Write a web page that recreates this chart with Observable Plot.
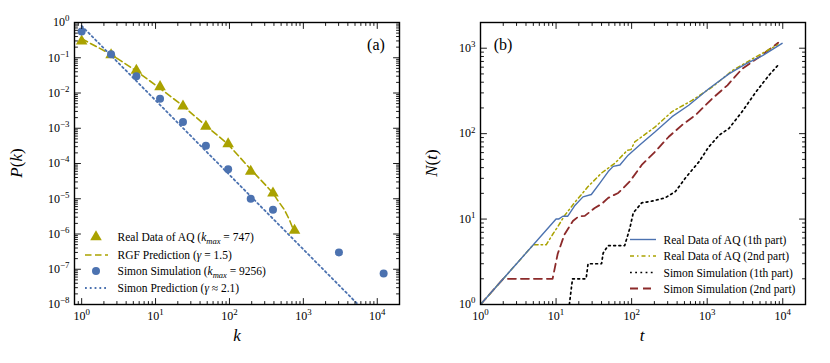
<!DOCTYPE html>
<html><head><meta charset="utf-8">
<script src="https://cdn.jsdelivr.net/npm/d3@7"></script>
<script src="https://cdn.jsdelivr.net/npm/@observablehq/plot@0.6"></script>
<style>
body{margin:0;background:#fff;}
#wrap{display:flex;width:830px;height:363px;background:#fff;}
</style></head><body><div id="wrap"></div>
<script>
// ---------- Panel (a): degree distribution ----------
const kReal = [1, 2.5, 5.5, 11.5, 23.5, 48, 96, 194, 388, 760];
const pReal = [0.295, 0.12, 0.044, 0.015, 0.0042, 0.00112, 0.00036, 6.0e-5, 1.44e-5, 1.26e-6];
const kSim = [1, 2.5, 5.5, 11.5, 23.5, 48, 96, 194, 388, 3030, 12200];
const pSim = [0.556, 0.126, 0.030, 0.0069, 0.0015, 3.2e-4, 6.9e-5, 1.0e-5, 4.9e-6, 3.0e-7, 7.6e-8];
const kRgf = [1, 2.5, 5.5, 11.5, 23.5, 48, 96, 194, 300, 388, 450, 550, 650, 747];
const pRgf = [0.345, 0.125, 0.042, 0.0135, 0.0043, 0.00118, 3.5e-4, 6.8e-5, 2.6e-5, 1.45e-5, 9e-6, 5e-6, 2.5e-6, 1.2e-6];
const kSimPred = [1, 5500];
const pSimPred = [0.8, 1.0e-8];

// ---------- Panel (b): N(t) ----------
const tBlue = [1, 10, 10.8, 12.3, 14.3, 17.5, 22.7, 29.3, 38, 49, 57, 70, 90, 129, 205, 343, 570, 1050, 1940, 3240, 5400, 9800];
const nBlue = [1, 10, 10, 10.8, 10.8, 14.2, 18.2, 19.4, 26.4, 36, 41.4, 43, 56, 74, 105, 158, 215, 335, 500, 657, 820, 1140];
const tOlive = [1, 5, 7.4, 9, 10.5, 13, 17.5, 26.5, 40, 60, 88, 98, 110, 205, 343, 630, 1170, 2150, 3980, 8600];
const nOlive = [1, 5, 5, 6.6, 8.1, 11, 15.5, 24, 34.6, 45, 64, 65, 80, 120, 181, 245, 352, 548, 752, 1100];
const tRed = [1, 2, 9, 10.5, 12.9, 16.7, 20, 24, 32.5, 40, 49, 66.5, 95, 136, 205, 310, 464, 700, 1170, 1850, 2900, 4900, 8700];
const nRed = [1, 2, 2, 3.9, 6.6, 9.5, 10.8, 10.9, 13.5, 15, 17.7, 20.2, 27.7, 43, 61.6, 92, 126, 165, 258, 368, 574, 790, 1160];
const tBlack = [15, 16.5, 25, 26.5, 40, 42, 49, 81, 95, 105, 136, 184, 277, 380, 515, 780, 1050, 1440, 1940, 2900, 4400, 6600, 9000];
const nBlack = [1, 2, 2, 3, 3, 4, 4.9, 4.9, 7.9, 11.8, 15.5, 16.2, 17.7, 21, 30.3, 47, 70, 96, 115, 181, 307, 485, 657];

// ---------- Ticks ----------
const xMajorA = [1, 10, 100, 1000, 10000];
const yMajorA = [1e-8, 1e-7, 1e-6, 1e-5, 1e-4, 1e-3, 1e-2, 1e-1, 1];
const xMajorB = [1, 10, 100, 1000, 10000];
const yMajorB = [1, 10, 100, 1000];

const FONT = "'Liberation Serif', 'Times New Roman', serif";
const OLIVE = "#aaa200", BLUE = "#4c72b0", RED = "#8c2a2a";
const DOT_A = "1.8,3", DOT_B = "1.8,3.4";

function minors(lo, hi) {
  const out = [];
  for (let e = Math.floor(Math.log10(lo)) - 1; e <= Math.ceil(Math.log10(hi)); e++)
    for (let m = 2; m <= 9; m++) { const v = m * Math.pow(10, e); if (v > lo * 1.0001 && v < hi * 0.9999) out.push(v); }
  return out;
}
const tickShape = {draw(ctx, l) { ctx.moveTo(0, 0); ctx.lineTo(0, -l); }};
function frameTicks(xMaj, xMin, yMaj, yMin) {
  const v = (data, ch, anchor, rotate, len) => Plot.vector(data, {[ch]: d => d, frameAnchor: anchor, rotate, length: len, anchor: "start", shape: tickShape, stroke: "black", strokeWidth: 0.9});
  return [
    v(xMaj, "x", "bottom", 0, 6), v(xMin, "x", "bottom", 0, 3),
    v(xMaj, "x", "top", 180, 6), v(xMin, "x", "top", 180, 3),
    v(yMaj, "y", "left", 90, 6), v(yMin, "y", "left", 90, 3),
    v(yMaj, "y", "right", -90, 6), v(yMin, "y", "right", -90, 3)
  ];
}
const sup = d => "10^" + String(Math.round(Math.log10(d))).replace("-", "\u2212");

function fixSup(svg) {
  d3.select(svg).selectAll("text").each(function () {
    const m = /^10\^(.+)$/.exec(this.textContent);
    if (m) {
      const s = d3.select(this);
      s.text("10");
      s.append("tspan").attr("dy", "-0.55em").attr("font-size", "0.74em").text(m[1]);
    }
  });
}

function addText(g, x, y, parts, opts = {}) {
  const t = g.append("text").attr("x", x).attr("y", y).attr("font-family", FONT)
    .attr("font-size", opts.size || 11.5).attr("fill", "black").attr("text-anchor", opts.anchor || "start");
  if (opts.rotate) t.attr("transform", `rotate(${opts.rotate},${x},${y})`);
  for (const p of parts) {
    const ts = t.append("tspan").text(p.t);
    if (p.i) ts.attr("font-style", "italic");
    if (p.dy) ts.attr("dy", p.dy);
    if (p.fs) ts.attr("font-size", p.fs);
  }
  return t;
}

// ---------- Panel (a) ----------
const W = 415, H = 363;
const plotA = Plot.plot({
  width: W, height: H,
  marginLeft: 74, marginRight: 16, marginTop: 22, marginBottom: 59,
  style: {fontFamily: FONT, fontSize: "12px", background: "white", overflow: "visible"},
  x: {type: "log", domain: [0.8, 2e4]},
  y: {type: "log", domain: [1e-8, 1]},
  marks: [
    Plot.dot(kReal, {x: kReal, y: pReal, symbol: "triangle", r: 4.3, fill: OLIVE}),
    Plot.line(kRgf, {x: kRgf, y: pRgf, stroke: OLIVE, strokeWidth: 1.6, strokeDasharray: "6.5,3.5", clip: true}),
    Plot.dot(kSim, {x: kSim, y: pSim, r: 4, fill: BLUE}),
    Plot.line(kSimPred, {x: kSimPred, y: pSimPred, stroke: BLUE, strokeWidth: 1.8, strokeDasharray: DOT_A, clip: true}),
    Plot.frame({stroke: "black", strokeWidth: 1.4}),
    ...frameTicks(xMajorA, minors(0.8, 2e4), yMajorA, minors(1e-8, 1)),
    Plot.axisX(xMajorA, {tickSize: 0, tickPadding: 7, tickFormat: sup, label: null, fontSize: 12}),
    Plot.axisY(yMajorA, {tickSize: 0, tickPadding: 5, tickFormat: sup, label: null, fontSize: 12})
  ]
});
fixSup(plotA);
{
  const g = d3.select(plotA).append("g");
  addText(g, 376, 50, [{t: "(a)"}], {size: 16, anchor: "middle"});
  addText(g, 22, 163, [{t: "P", i: 1}, {t: "("}, {t: "k", i: 1}, {t: ")"}], {size: 17, anchor: "middle", rotate: -90});
  addText(g, 237, 341, [{t: "k", i: 1}], {size: 17, anchor: "middle"});
  // legend
  const rows = [237, 255, 271, 288];
  g.append("path").attr("transform", `translate(96,${rows[0]})`).attr("d", d3.symbol(d3.symbolTriangle, 4.3 * 4.3 * Math.PI)()).attr("fill", OLIVE);
  g.append("line").attr("x1", 85).attr("x2", 108).attr("y1", rows[1]).attr("y2", rows[1]).attr("stroke", OLIVE).attr("stroke-width", 1.6).attr("stroke-dasharray", "6.5,3.5");
  g.append("circle").attr("cx", 96).attr("cy", rows[2]).attr("r", 4).attr("fill", BLUE);
  g.append("line").attr("x1", 85).attr("x2", 108).attr("y1", rows[3]).attr("y2", rows[3]).attr("stroke", BLUE).attr("stroke-width", 1.8).attr("stroke-dasharray", DOT_A);
  const tx = 117.5, off = 4;
  addText(g, tx, rows[0] + off, [{t: "Real Data of AQ ("}, {t: "k", i: 1}, {t: "max", i: 1, dy: 3, fs: 8.5}, {t: " = 747)", dy: -3}]);
  addText(g, tx, rows[1] + off, [{t: "RGF Prediction ("}, {t: "\u03b3", i: 1}, {t: " = 1.5)"}]);
  addText(g, tx, rows[2] + off, [{t: "Simon Simulation ("}, {t: "k", i: 1}, {t: "max", i: 1, dy: 3, fs: 8.5}, {t: " = 9256)", dy: -3}]);
  addText(g, tx, rows[3] + off, [{t: "Simon Prediction ("}, {t: "\u03b3", i: 1}, {t: " \u2248 2.1)"}]);
}

// ---------- Panel (b) ----------
const plotB = Plot.plot({
  width: W, height: H,
  marginLeft: 65, marginRight: 25, marginTop: 22, marginBottom: 59,
  style: {fontFamily: FONT, fontSize: "12px", background: "white", overflow: "visible"},
  x: {type: "log", domain: [1, 2e4]},
  y: {type: "log", domain: [1, 2000]},
  marks: [
    Plot.line(tBlack, {x: tBlack, y: nBlack, stroke: "black", strokeWidth: 1.7, strokeDasharray: DOT_B, clip: true}),
    Plot.line(tRed, {x: tRed, y: nRed, stroke: RED, strokeWidth: 1.8, strokeDasharray: "8,5", clip: true}),
    Plot.line(tOlive, {x: tOlive, y: nOlive, stroke: OLIVE, strokeWidth: 1.5, strokeDasharray: "4,3,1.5,3", clip: true}),
    Plot.line(tBlue, {x: tBlue, y: nBlue, stroke: BLUE, strokeWidth: 1.4, clip: true}),
    Plot.frame({stroke: "black", strokeWidth: 1.4}),
    ...frameTicks(xMajorB, minors(1, 2e4), yMajorB, minors(1, 2000)),
    Plot.axisX(xMajorB, {tickSize: 0, tickPadding: 7, tickFormat: sup, label: null, fontSize: 12}),
    Plot.axisY(yMajorB, {tickSize: 0, tickPadding: 5, tickFormat: sup, label: null, fontSize: 12})
  ]
});
fixSup(plotB);
{
  const g = d3.select(plotB).append("g");
  addText(g, 88, 50, [{t: "(b)"}], {size: 16, anchor: "middle"});
  addText(g, 22, 163, [{t: "N", i: 1}, {t: "("}, {t: "t", i: 1}, {t: ")"}], {size: 17, anchor: "middle", rotate: -90});
  addText(g, 227, 341, [{t: "t", i: 1}], {size: 17, anchor: "middle"});
  const rows = [239.5, 256, 272.5, 288.5];
  const styles = [
    {c: BLUE, w: 1.4, d: null, label: "Real Data of AQ (1th part)"},
    {c: OLIVE, w: 1.5, d: "4,3,1.5,3", label: "Real Data of AQ (2nd part)"},
    {c: "black", w: 1.7, d: DOT_B, label: "Simon Simulation (1th part)"},
    {c: RED, w: 1.8, d: "8,5", label: "Simon Simulation (2nd part)"}
  ];
  styles.forEach((s, i) => {
    const l = g.append("line").attr("x1", 215).attr("x2", 241).attr("y1", rows[i]).attr("y2", rows[i]).attr("stroke", s.c).attr("stroke-width", s.w);
    if (s.d) l.attr("stroke-dasharray", s.d);
    addText(g, 248.5, rows[i] + 4, [{t: s.label}]);
  });
}

const wrap = document.getElementById("wrap");
wrap.appendChild(plotA);
wrap.appendChild(plotB);
</script></body></html>
